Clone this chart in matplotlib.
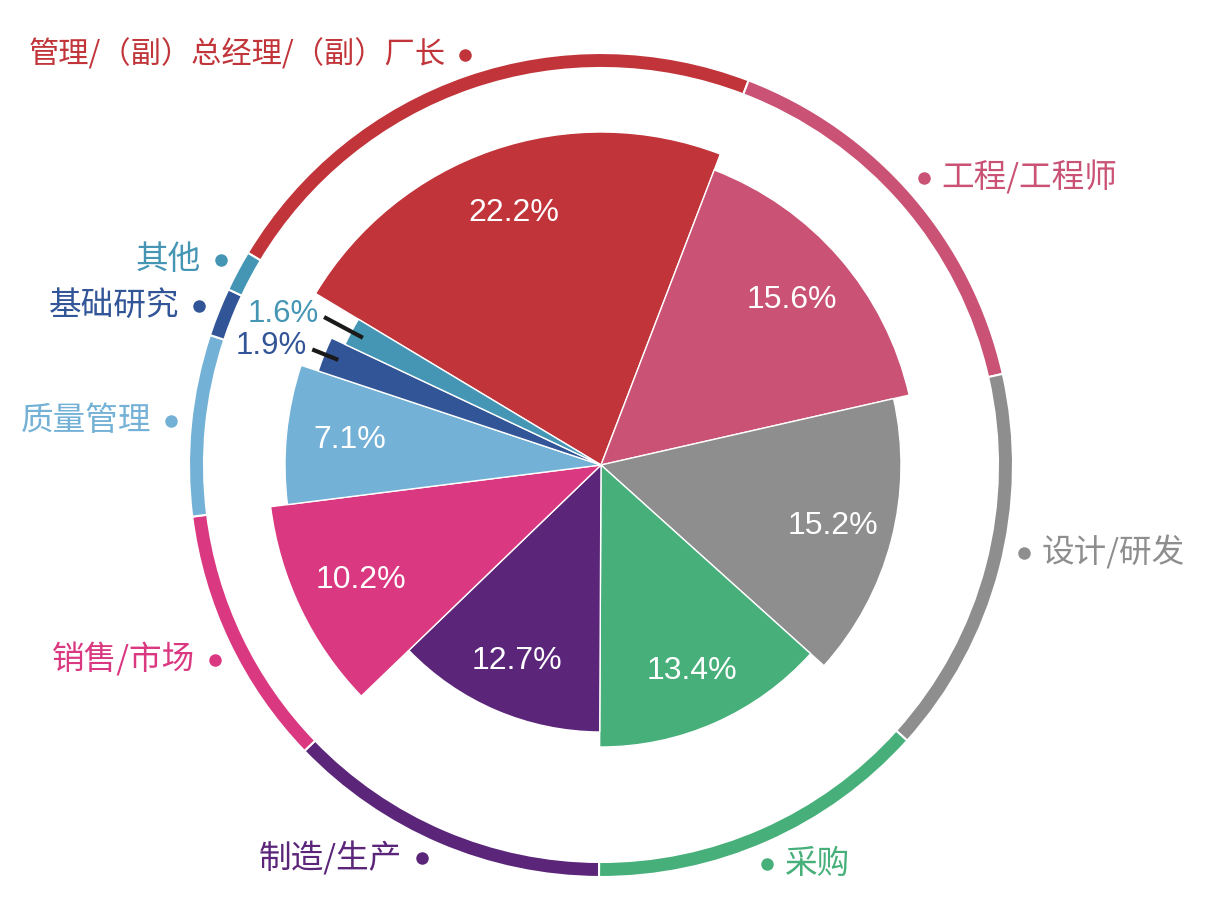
import numpy as np
import matplotlib
matplotlib.use('Agg')
import matplotlib.pyplot as plt

# ── Data ──────────────────────────────────────────────────────────────────
labels = ["管理/（副）总经理/（副）厂长", "工程/工程师", "设计/研发", "采购",
          "制造/生产", "销售/市场", "质量管理", "基础研究", "其他"]
shares = [22.2, 15.6, 15.2, 13.4, 12.7, 10.2, 7.1, 1.9, 1.6]
pct_text = ["22.2%", "15.6%", "15.2%", "13.4%", "12.7%", "10.2%", "7.1%", "1.9%", "1.6%"]

# ── Style ─────────────────────────────────────────────────────────────────
colors = ["#C1353A", "#C95275", "#8E8E8E", "#47B07A", "#5B2679",
          "#DA3881", "#74B1D6", "#325598", "#4596B5"]
slice_r = [333, 316, 300, 282, 267, 333, 316, 298, 283]   # px
label_shift = [0.7, -0.8, -2.9, 1.3, 1.3, -1.2, 0.2, -0.2, 0.2]  # deg nudges
label_size = [21.8, 23.5, 23.5, 23.5, 23.5, 23.5, 23.5, 23.5, 23.5]
RING_IN, RING_W = 397, 15
DOT_R = 432
START = -59.0        # degrees, clockwise from 12 o'clock
CJK = ['Noto Sans CJK SC', 'DejaVu Sans']
NUM = ['Liberation Sans', 'DejaVu Sans']

W, H = 1224, 915
cx, cy = 601, H - 465
R = 450

fig = plt.figure(figsize=(W / 100, H / 100), dpi=100)
fig.patch.set_facecolor("white")
ax = fig.add_axes([(cx - R) / W, (cy - R) / H, 2 * R / W, 2 * R / H],
                  projection='polar')
ax.set_theta_zero_location('N')
ax.set_theta_direction(-1)
ax.set_ylim(0, R)
ax.set_axis_off()

span = np.array(shares) / sum(shares) * 2 * np.pi
start = np.radians(START) + np.concatenate([[0], np.cumsum(span)[:-1]])
mid = start + span / 2

# rose slices
ax.bar(start, slice_r, width=span, align='edge', color=colors,
       edgecolor='white', linewidth=1.0)
# outer ring
ax.bar(start, [RING_W] * len(shares), width=span, bottom=RING_IN, align='edge',
       color=colors, edgecolor='white', linewidth=1.5)

# percentage labels inside
for i, (m, r, t) in enumerate(zip(mid, slice_r, pct_text)):
    if shares[i] < 5:
        continue
    ax.text(m, r * 0.8, t, ha='center', va='center', color='white',
            fontsize=23, family=NUM)

# small slices: leader lines + outside labels
leaders = {7: (283, 311), 8: (270, 314)}
for i, (r0, r1) in leaders.items():
    ax.plot([mid[i], mid[i]], [r0, r1], color='#1a1a1a', lw=3,
            solid_capstyle='butt')
    ax.annotate(pct_text[i], xy=(mid[i], r1), xytext=(-5, 3),
                textcoords='offset pixels', ha='right', va='center',
                color=colors[i], fontsize=22.5, family=NUM)

# category labels with dots
for i, (m, lab) in enumerate(zip(mid, labels)):
    a = m + np.radians(label_shift[i])
    ax.plot([a], [DOT_R], 'o', color=colors[i], markersize=9,
            markeredgewidth=0, clip_on=False)
    right_side = (np.degrees(a) % 360) < 180
    ax.annotate(lab, xy=(a, DOT_R), xytext=(18 if right_side else -20, 0),
                textcoords='offset pixels',
                ha='left' if right_side else 'right', va='center',
                color=colors[i], fontsize=label_size[i], family=CJK)

plt.savefig("out.png", dpi=100, facecolor="white")
plt.close()
